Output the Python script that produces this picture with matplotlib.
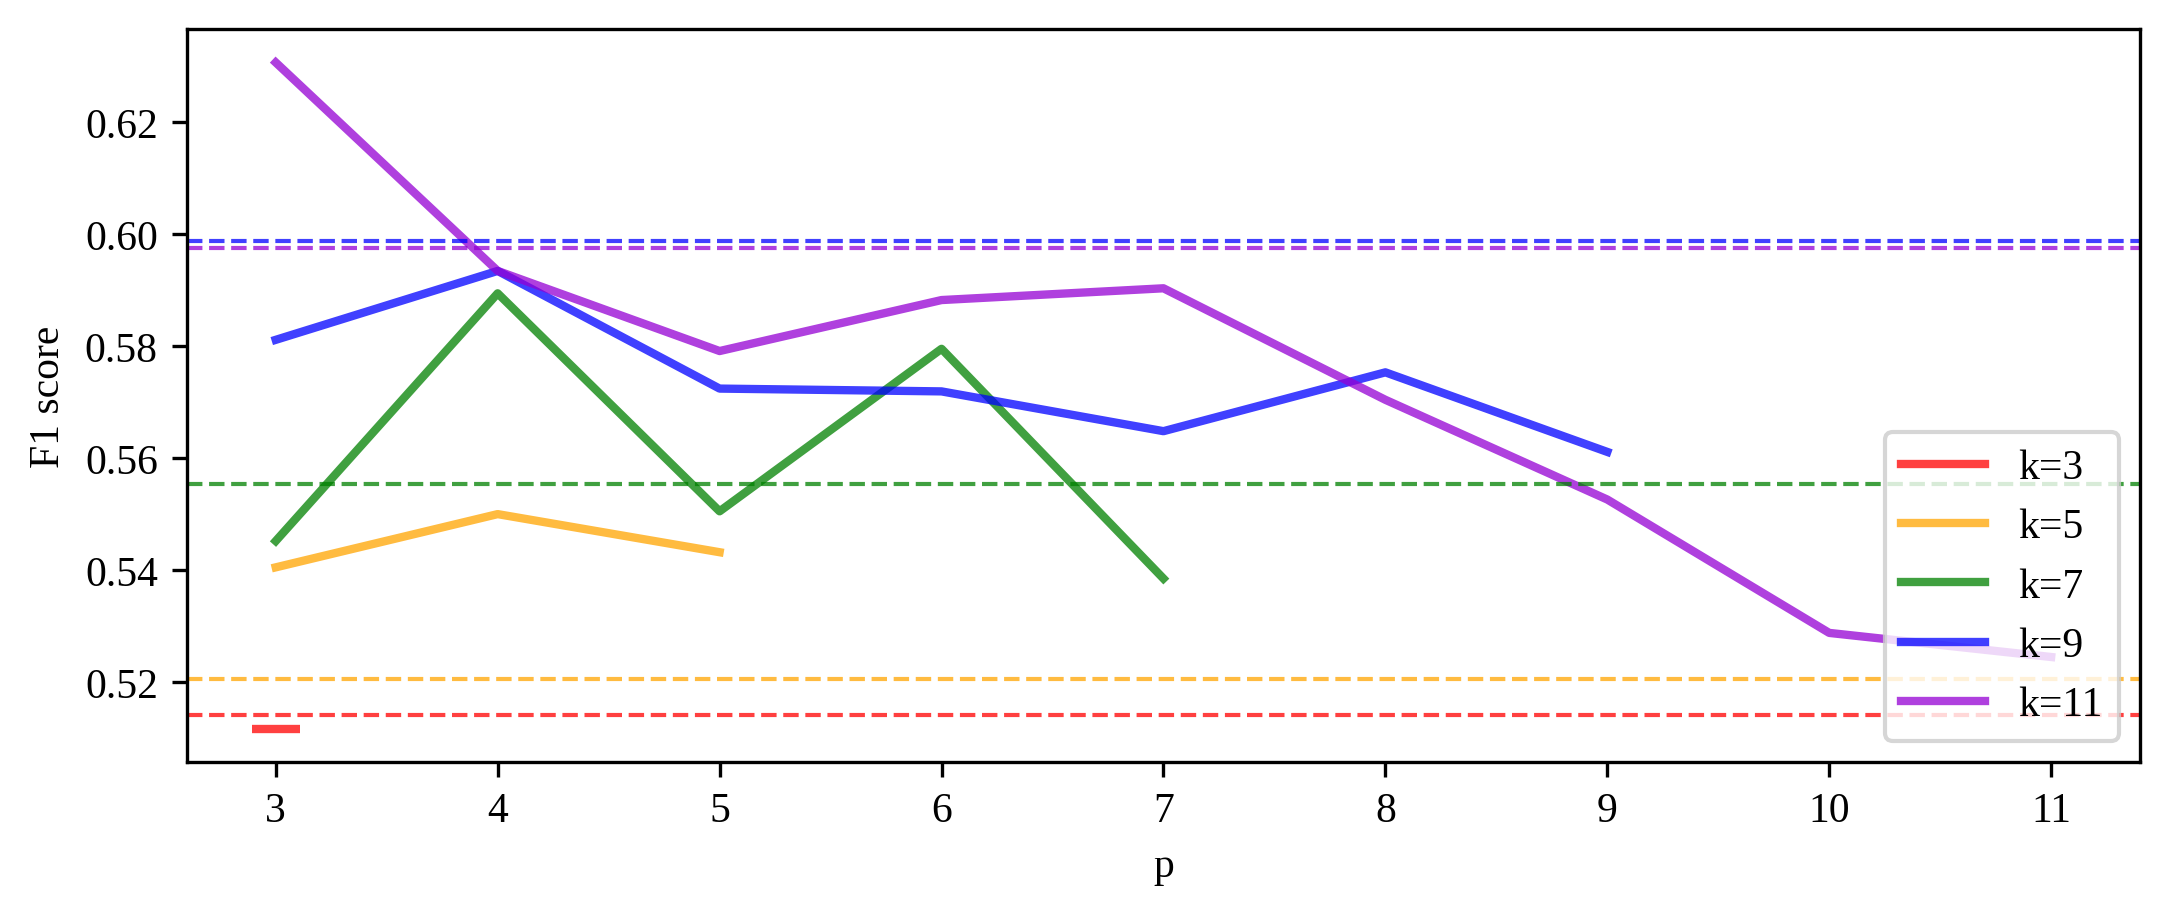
import matplotlib
matplotlib.use("Agg")
import matplotlib.pyplot as plt

plt.rcParams['font.family'] = ['Liberation Serif', 'DejaVu Serif']
plt.rcParams['font.size'] = 10

# F1 score per p, for each k
p_k3 = [3]
f1_k3 = [0.5117]
p_k5 = [3, 4, 5]
f1_k5 = [0.5405, 0.5500, 0.5432]
p_k7 = [3, 4, 5, 6, 7]
f1_k7 = [0.5452, 0.5894, 0.5505, 0.5795, 0.5385]
p_k9 = [3, 4, 5, 6, 7, 8, 9]
f1_k9 = [0.5811, 0.5934, 0.5724, 0.5719, 0.5648, 0.5753, 0.5611]
p_k11 = [3, 4, 5, 6, 7, 8, 9, 10, 11]
f1_k11 = [0.6306, 0.5934, 0.5791, 0.5882, 0.5903, 0.5704, 0.5526, 0.5288, 0.5245]

# baselines (dashed)
base_k3 = 0.5141
base_k5 = 0.5205
base_k7 = 0.5554
base_k9 = 0.5988
base_k11 = 0.5974

colors = ['red', 'orange', 'green', 'blue', 'darkviolet']

fig = plt.figure(figsize=(7.23, 3.053), dpi=300)
ax = fig.add_subplot(111)
fig.subplots_adjust(left=0.0862, right=0.9866, top=0.9672, bottom=0.167)

# k=3 only has one point -> shown as a short dash
ax.plot(p_k3, f1_k3, color=colors[0], alpha=0.75, linewidth=2, marker='_',
        markersize=11.3, markeredgewidth=2, label="k=3")
ax.plot(p_k5, f1_k5, color=colors[1], alpha=0.75, linewidth=2, label="k=5")
ax.plot(p_k7, f1_k7, color=colors[2], alpha=0.75, linewidth=2, label="k=7")
ax.plot(p_k9, f1_k9, color=colors[3], alpha=0.75, linewidth=2, label="k=9")
ax.plot(p_k11, f1_k11, color=colors[4], alpha=0.75, linewidth=2, label="k=11")

for b, c in zip([base_k3, base_k5, base_k7, base_k9, base_k11], colors):
    ax.axhline(b, color=c, alpha=0.75, linewidth=1, linestyle='--')

ax.set_xticks(range(3, 12))
ax.set_yticks([0.52, 0.54, 0.56, 0.58, 0.60, 0.62])
ax.set_xlabel("p")
ax.set_ylabel("F1 score")
leg = ax.legend(loc="lower right")
leg.legend_handles[0].set_marker('')

fig.savefig("out.png", dpi=300)
